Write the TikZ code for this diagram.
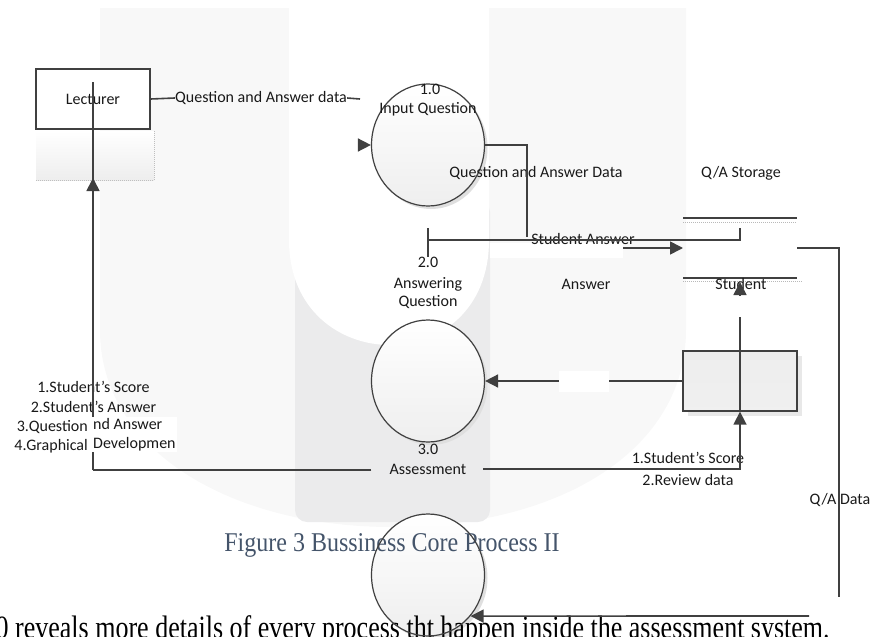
\documentclass[tikz,border=0pt]{standalone}
\usepackage{fontspec}
\setmainfont{Carlito}
\newfontfamily\timesf{Liberation Serif}
\usetikzlibrary{arrows.meta,shapes.geometric}
\definecolor{ln}{HTML}{404040}
\definecolor{capc}{HTML}{44546A}
\definecolor{wmA}{HTML}{F8F8F8}
\definecolor{wmB}{HTML}{EBEBEC}
\begin{document}
\begin{tikzpicture}[x=1pt,y=-1pt,
  txt/.style={font=\fontsize{16}{19}\selectfont, inner sep=0pt, text=black!90},
  flow/.style={draw=ln, line width=1.6pt},
  tip/.style={-{Triangle[length=13pt,width=13pt]}},
  procfill/.style={ellipse, minimum width=113pt, minimum height=122pt, inner sep=0pt, top color=white, bottom color=gray!13},
  procline/.style={ellipse, draw=ln, line width=1.2pt, minimum width=113pt, minimum height=122pt, inner sep=0pt},
  shad/.style={ellipse, fill=gray!25, minimum width=113pt, minimum height=122pt, inner sep=0pt},
  entity/.style={rectangle, draw=ln, line width=1.5pt, minimum width=114pt, minimum height=60pt, inner sep=0pt},
  serif/.style={font=\timesf\fontsize{24}{28}\selectfont, inner sep=0pt},
]
\useasboundingbox (0,0) rectangle (871,637);
\clip (0,0) rectangle (871,637);
% watermark
\fill[wmA] (100,8) -- (100,330) .. controls (100,450) and (230,527) .. (392,527) .. controls (560,527) and (686,450) .. (686,330) -- (686,8) -- cycle;
\fill[wmB, rounded corners=12pt] (295,200) rectangle (490,522);
\fill[white] (289,0) -- (289,240) .. controls (289,310) and (340,345) .. (390,345) .. controls (440,345) and (489,310) .. (489,240) -- (489,0) -- cycle;
\fill[white] (490,243) rectangle (623,258);

% Lecturer entity with reflection
\shade[top color=white, bottom color=gray!14] (36,131) rectangle (154,180);
\draw[gray!50, densely dotted, line width=1pt] (36,180) -- (154,180) -- (154,131);
\node[entity, fill=white, txt] (lect) at (93,99) {Lecturer};

% processes
\node[shad] at (431,148) {};
\node[procfill] (p1f) at (428,145) {};
\node[procline] (p1) at (428,145) {};
\node[shad] at (431,384) {};
\node[procfill] (p3f) at (428,381) {};
\node[procline] (p3) at (428,381) {};
\node[shad] at (431,578) {};
\node[procfill] (p4f) at (428,575) {};

% student entity
\fill[gray!18] (688,356) rectangle (802,416);
\node[entity, line width=1.3pt, top color=gray!14, middle color=white, bottom color=gray!12] (stu) at (740,381) {};

% data store
\draw[ln, line width=1.4pt] (683,218) -- (797,218);
\draw[gray!55, densely dotted, line width=1pt] (683,222) -- (797,222);
\draw[ln, line width=1.4pt] (683,278) -- (797,278);
\draw[gray!55, densely dotted, line width=1pt] (683,281) -- (803,281);
\coordinate (stL) at (683,248);
\coordinate (stR) at (797,248);
\coordinate (stT) at (740,228);
\coordinate (stB) at (740,282);

% texts
\node[txt] (qad) at (261,98) {Question and Answer data};
\node[txt] (n10) at (430,89) {1.0};
\node[txt] (n10b) at (428,109) {Input Question};
\node[txt] (qaD) at (536,173) {Question and Answer Data};
\node[txt] (qas) at (741,173) {Q/A Storage};
\node[txt] (sa) at (583,239) {Student Answer};
\node[txt] (n20) at (428,262) {2.0};
\node[txt] (n20b) at (428,284) {Answering};
\node[txt] (n20c) at (428,302) {Question};
\node[txt] (ans) at (586,284) {Answer};
\node[txt] (stud) at (741,284) {Student};
\node[txt] (n30) at (428,449) {3.0};
\node[txt] (asm) at (428,469) {Assessment};
\node[txt] (ss) at (688,458) {1.Student’s Score};
\node[txt] (rd) at (688,480) {2.Review data};
\node[txt] (qadt) at (840,500) {Q/A Data};
\node[txt] (l1) at (93.5,387) {1.Student’s Score};
\node[txt] (l2) at (93.5,407) {2.Student’s Answer};
\node[txt, anchor=east] (l3) at (88,427) {3.Question};
\node[txt, anchor=east] (l4) at (88,446) {4.Graphical};

% flows
\coordinate (lt) at (93,82);
\draw[flow, tip] (93,470) -- (93,178);
\draw[flow] (93,190) -- (lt);
\node[txt, fill=white, anchor=north west, align=left, inner sep=1pt, font=\fontsize{16}{19.5}\selectfont] (l34) at (92,417) {nd Answer\\Developmen};
\draw[flow] (lect.east) -- (qad.west);
\draw[flow] (qad.east) -- (360,99);
\draw[flow, tip] (358,145) -- (p1.west);
\draw[flow] (p1.east) -- (527,145) -- (527,237);
\draw[flow] (428,228) -- (428,257);
\draw[flow] (428,240) -- (740,240) -- (stT);
\draw[flow, tip] (623,248) -- (stL);
\draw[flow] (stR) -- (839,248) -- (839,597);
\draw[flow, tip] (stu.west) -- (p3.east);
\fill[white] (559,371) rectangle (609,392);
\draw[flow] (asm.west) ++(-18,1) -- (93,470);
\draw[flow, tip] (483,469) -- (740,469) -- (stu.south);
\draw[flow] (740,412) -- (740,317);
\draw[flow, tip] (740,295) -- (stB);

% caption and body text
\node[serif, text=capc, anchor=base] (cap) at (392,551) {\scalebox{1}[1.13]{Figure 3 Bussiness Core Process II}};
\node[serif, text=black, anchor=base west, font=\timesf\fontsize{26}{30}\selectfont] (body) at (-4.5,638) {\scalebox{1}[1.25]{0 reveals more details of every process tht happen inside the assessment system.}};
\node[procline] (p4) at (428,575) {};
\draw[flow, tip] (809,616) -- (p4.-44);
\end{tikzpicture}
\end{document}
